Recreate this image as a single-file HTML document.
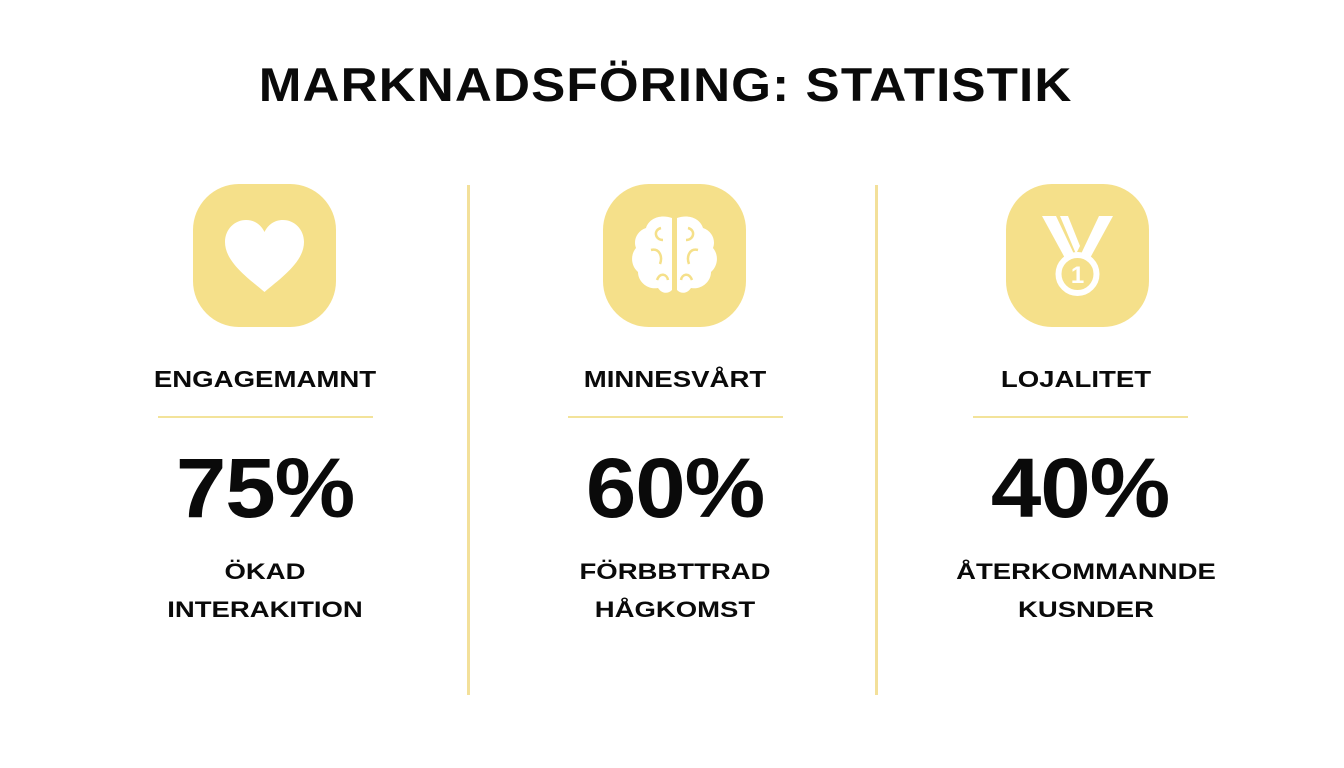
<!DOCTYPE html>
<html><head><meta charset="utf-8"><style>
body{margin:0;width:1344px;height:768px;background:#fff;font-family:"Liberation Sans",sans-serif;position:relative;overflow:hidden;color:#0a0a0a}
.t{position:absolute;left:-7px;width:1344px;text-align:center;top:57px;font-size:47px;font-weight:bold;letter-spacing:1px;transform:scaleX(1.09);transform-origin:665px 0}
.col{position:absolute;top:0;width:300px;text-align:center}
.ic{position:absolute;top:184px;width:143px;height:143px;border-radius:46px;background:#f5e08a}
.lab{position:absolute;top:366px;width:300px;font-size:23px;font-weight:bold;transform:scaleX(1.2)}
.ln{position:absolute;top:416px;height:2px;width:215px;background:#f3e39a}
.pc{position:absolute;top:440px;width:300px;font-size:84px;font-weight:bold;letter-spacing:-1px;transform:scaleX(1.08)}
.sub{position:absolute;top:553px;width:300px;font-size:22px;font-weight:bold;line-height:38px;transform:scaleX(1.25)}
.dv{position:absolute;top:185px;width:3px;height:510px;background:#f3e09a}
</style></head><body>
<div class="t">MARKNADSFÖRING: STATISTIK</div>
<div class="dv" style="left:467px"></div>
<div class="dv" style="left:875px"></div>

<div class="col" style="left:115px">
<div class="ic" style="left:78px"><svg width="143" height="143" viewBox="0 0 143 143"><path d="M71.5 108 C55 94 32 78 32 58 C32 45 42 36 53 36 C62 36 68 41 71.5 48 C75 41 81 36 90 36 C101 36 111 45 111 58 C111 78 88 94 71.5 108Z" fill="#fff"/></svg></div>
<div class="lab">ENGAGEMAMNT</div>
<div class="ln" style="left:43px"></div>
<div class="pc">75%</div>
<div class="sub">ÖKAD<br>INTERAKITION</div>
</div>

<div class="col" style="left:525px">
<div class="ic" style="left:78px"><svg width="143" height="143" viewBox="0 0 143 143"><g fill="#fff"><path d="M69 34 C58 30 46 34 43 44 C34 47 30 56 33 64 C27 71 28 82 35 88 C35 98 45 106 55 104 C59 110 65 110 69 106Z"/><path d="M74 34 C85 30 97 34 100 44 C109 47 113 56 110 64 C116 71 115 82 108 88 C108 98 98 106 88 104 C84 110 78 110 74 106Z"/></g><g fill="none" stroke="#f5e08a" stroke-width="2.5"><path d="M58 44 C50 46 52 56 60 56 M48 66 C56 64 60 72 57 80 M54 96 C57 88 64 90 65 96 M85 44 C93 46 91 56 83 56 M95 66 C87 64 83 72 86 80 M89 96 C86 88 79 90 78 96"/></g></svg></div>
<div class="lab">MINNESVÅRT</div>
<div class="ln" style="left:43px"></div>
<div class="pc">60%</div>
<div class="sub">FÖRBBTTRAD<br>HÅGKOMST</div>
</div>

<div class="col" style="left:930px">
<div class="ic" style="left:76px"><svg width="143" height="143" viewBox="0 0 143 143"><g fill="#fff"><polygon points="36,32 50,32 68,70 60,76"/><polygon points="54,32 62,32 74,62 70,70"/><polygon points="107,32 93,32 75,70 83,76"/></g><circle cx="71.5" cy="90" r="19" fill="none" stroke="#fff" stroke-width="6"/><text x="71.5" y="99" text-anchor="middle" font-family="Liberation Sans" font-weight="bold" font-size="24" fill="#fff">1</text></svg></div>
<div class="lab" style="left:-4px">LOJALITET</div>
<div class="ln" style="left:43px"></div>
<div class="pc">40%</div>
<div class="sub" style="left:6px">ÅTERKOMMANNDE<br>KUSNDER</div>
</div>
</body></html>
